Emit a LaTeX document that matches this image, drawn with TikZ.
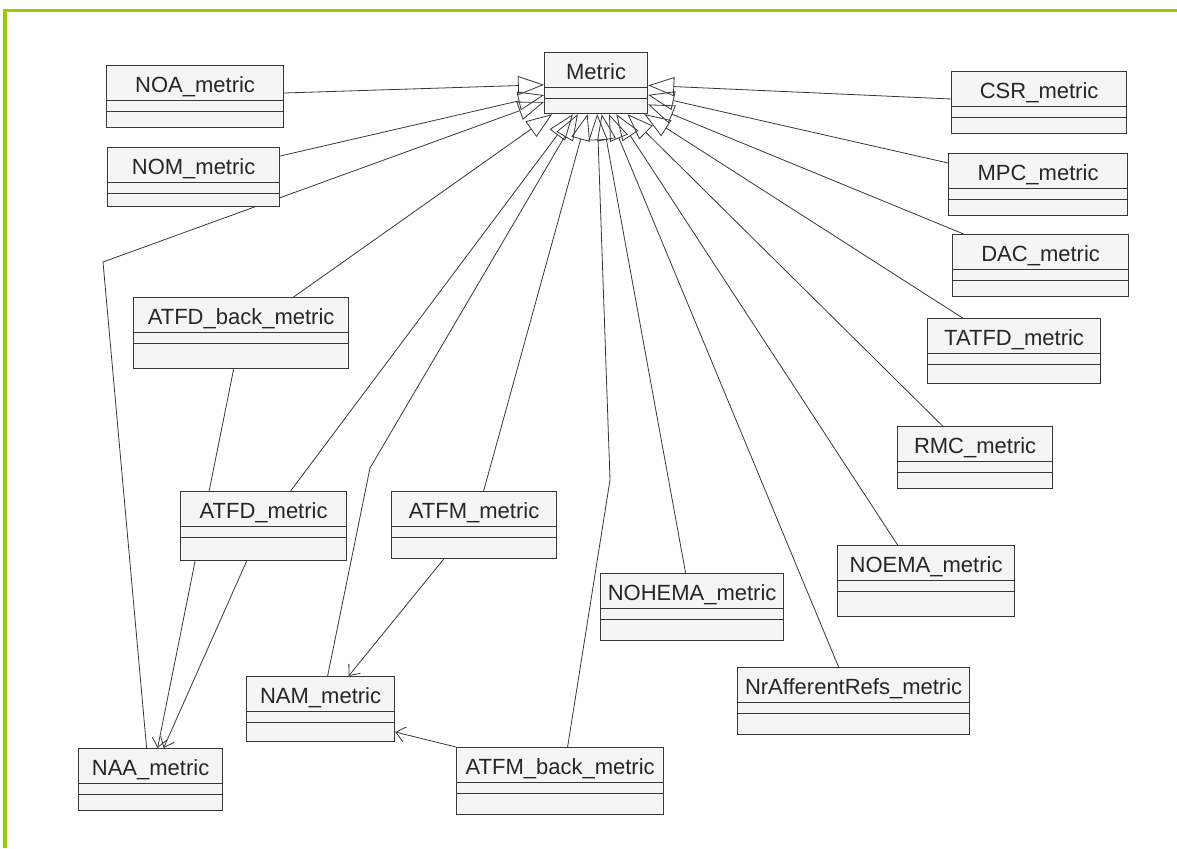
\documentclass[tikz,border=0pt]{standalone}
\usepackage{fontspec}
\setmainfont{Liberation Sans}
\usetikzlibrary{arrows.meta}
\definecolor{lime}{RGB}{153,204,0}
\definecolor{linecol}{RGB}{55,55,55}
\definecolor{boxfill}{RGB}{245,245,245}
\pgfdeclarelayer{bg}
\pgfsetlayers{bg,main}
\begin{document}
\begin{tikzpicture}[x=1pt,y=-1pt,
  font=\fontsize{22}{26}\selectfont,
  cbox/.style 2 args={draw=linecol, fill=boxfill, line width=1.2pt, rectangle,
    inner sep=0pt, anchor=north west, minimum width=#1pt,
    text height=27pt, text depth=#2pt, text=black!85,
    path picture={\draw[linecol, line width=1.2pt]
      ([yshift=-35pt]path picture bounding box.north west) -- ([yshift=-35pt]path picture bounding box.north east)
      ([yshift=-46pt]path picture bounding box.north west) -- ([yshift=-46pt]path picture bounding box.north east);}},
  conn/.style={draw=linecol, line width=0.8pt},
  gen/.style={conn, -{Triangle[open, length=26pt, width=19pt]}},
  dep/.style={conn, -{Straight Barb[length=9pt, width=15pt]}},
]
\useasboundingbox (0,0) rectangle (1177,848);
\fill[lime] (3,9) rectangle (1177,12.5);
\fill[lime] (3,9) rectangle (6.5,848);

\node[cbox={103}{34}] (Metric) at (544,52) {Metric};
\node[cbox={177}{35}] (NOA) at (106,65) {NOA\_metric};
\node[cbox={172}{32}] (NOM) at (107,147) {NOM\_metric};
\node[cbox={175}{35}] (CSR) at (951,71) {CSR\_metric};
\node[cbox={179}{35}] (MPC) at (948,153) {MPC\_metric};
\node[cbox={176}{35}] (DAC) at (952,234) {DAC\_metric};
\node[cbox={173}{38}] (TATFD) at (927,318) {TATFD\_metric};
\node[cbox={155}{35}] (RMC) at (897,426) {RMC\_metric};
\node[cbox={215}{44}] (ATFDb) at (133,297) {ATFD\_back\_metric};
\node[cbox={166}{42}] (ATFD) at (180,491) {ATFD\_metric};
\node[cbox={165}{40}] (ATFM) at (391,491) {ATFM\_metric};
\node[cbox={177}{44}] (NOEMA) at (837,545) {NOEMA\_metric};
\node[cbox={183}{40}] (NOHEMA) at (600,573) {NOHEMA\_metric};
\node[cbox={232}{40}] (NrAff) at (737,667) {NrAfferentRefs\_metric};
\node[cbox={148}{38}] (NAM) at (246,676) {NAM\_metric};
\node[cbox={144}{35}] (NAA) at (78,748) {NAA\_metric};
\node[cbox={207}{40}] (ATFMb) at (456,747) {ATFM\_back\_metric};

\coordinate (bNAA) at (103,262);
\coordinate (bNAM) at (370,468);
\coordinate (bATFMb) at (610,480);

\begin{pgfonlayer}{bg}
\draw[gen] ([yshift=-28pt]NOA.north east) -- (Metric);
\draw[gen] ([yshift=-9pt]NOM.north east) -- (Metric);
\draw[gen] ([xshift=-4pt]NAA.north) -- (bNAA) -- (Metric);
\draw[gen] ([xshift=52.5pt]ATFDb.north) -- (Metric);
\draw[gen] ([xshift=27pt]ATFD.north) -- (Metric);
\draw[gen] ([xshift=7pt]NAM.north) -- (bNAM) -- (Metric);
\draw[gen] ([xshift=9.5pt]ATFM.north) -- (Metric);
\draw[gen] ([xshift=7.5pt]ATFMb.north) -- (bATFMb) -- (Metric);
\draw[gen] ([xshift=-6.5pt]NOHEMA.north) -- (Metric);
\draw[gen] ([xshift=-15pt]NrAff.north) -- (Metric);
\draw[gen] ([xshift=-28.5pt]NOEMA.north) -- (Metric);
\draw[gen] ([xshift=-32.5pt]RMC.north) -- (Metric);
\draw[gen] ([xshift=-51.5pt]TATFD.north) -- (Metric);
\draw[gen] ([xshift=-77pt]DAC.north) -- (Metric);
\draw[gen] ([yshift=-10pt]MPC.north west) -- (Metric);
\draw[gen] ([yshift=-28pt]CSR.north west) -- (Metric);
\draw[dep] ([xshift=-7.5pt]ATFDb.south) -- ([xshift=7pt]NAA.north);
\draw[dep] ([xshift=-17pt]ATFD.south) -- ([xshift=13pt]NAA.north);
\draw[dep] ([xshift=-30.5pt]ATFM.south) -- ([xshift=28pt]NAM.north);
\draw[dep] (ATFMb.north west) -- ([yshift=-56pt]NAM.north east);
\end{pgfonlayer}
\end{tikzpicture}
\end{document}
